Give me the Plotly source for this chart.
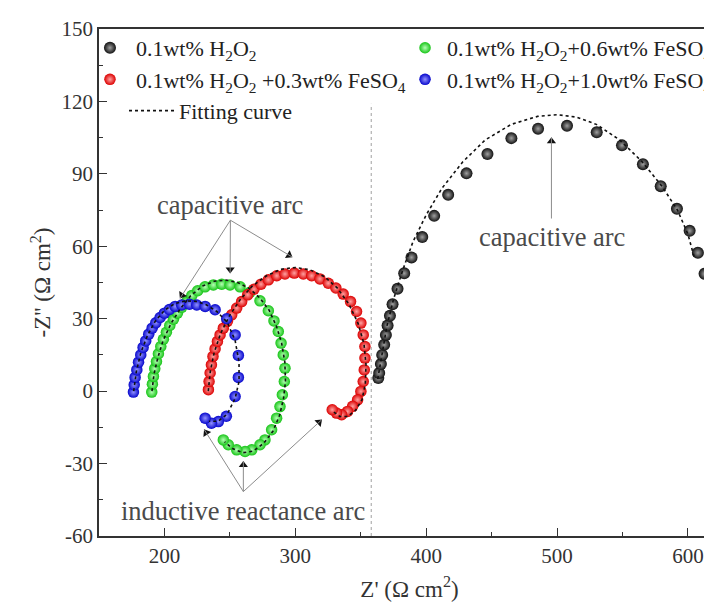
import math
import plotly.graph_objects as go

FONT = "Liberation Serif"

# ---------------- data ----------------
black_x = [363.4, 364.1, 365.4, 366.4, 367.9, 369.2, 370.5, 372.3, 374.3, 378.1, 383.2, 388.8,
           397.0, 406.1, 416.8, 430.8, 446.8, 465.1, 485.5, 507.6, 530.3, 549.6, 565.6, 579.2,
           591.6, 601.3, 607.6, 612.7]
black_y = [5.4, 7.5, 11.2, 15.0, 19.2, 23.3, 27.2, 31.2, 36.0, 42.4, 48.8, 55.4,
           63.8, 72.6, 81.3, 90.2, 98.2, 104.8, 108.7, 109.9, 107.2, 101.8, 94.0, 84.9,
           75.5, 66.4, 57.3, 48.6]

red_x = [233.6, 234.1, 234.9, 235.9, 237.1, 238.7, 240.5, 242.5, 245.0, 248.1, 251.4, 255.2,
         259.0, 263.6, 268.4, 273.8, 279.4, 285.8, 292.1, 299.2, 306.1, 312.5, 318.8, 325.2,
         331.0, 336.6, 342.2, 346.8, 350.1, 351.9, 353.2, 353.2, 352.7, 351.9, 350.1, 347.6,
         343.8, 339.9, 335.4, 331.5, 328.2]
red_y = [0.6, 4.0, 7.5, 10.9, 14.4, 17.5, 20.6, 23.3, 26.1, 28.9, 31.6, 34.4,
         37.1, 39.9, 42.2, 44.3, 46.1, 47.8, 48.5, 48.9, 48.5, 47.8, 46.5, 44.7,
         42.7, 40.2, 37.1, 33.0, 28.2, 23.3, 18.5, 13.7, 8.8, 4.0, -0.1, -3.6,
         -6.3, -8.4, -9.8, -9.1, -7.7]

green_x = [190.3, 190.8, 191.6, 192.6, 193.9, 195.4, 197.2, 199.2, 201.5, 204.1, 206.9, 209.9,
           213.2, 217.0, 220.9, 225.4, 231.0, 237.4, 243.8, 250.1, 257.8, 265.4, 273.0, 279.4,
           283.7, 287.0, 289.1, 290.8, 292.1, 291.6, 290.1, 288.3, 285.7, 281.9, 276.8, 273.0,
           266.7, 261.6, 255.2, 248.8, 245.0]
green_y = [-0.4, 2.9, 6.1, 9.3, 12.3, 15.5, 18.5, 21.5, 24.4, 27.2, 29.8, 32.3,
           34.7, 37.1, 39.6, 41.6, 43.2, 44.0, 44.3, 44.0, 43.2, 41.0, 37.4, 33.3,
           29.1, 24.7, 19.9, 15.0, 9.5, 4.0, -1.5, -6.4, -11.2, -16.0, -20.2, -22.2,
           -24.3, -25.0, -24.3, -22.2, -20.2]

blue_x = [176.3, 176.9, 177.6, 178.9, 180.2, 181.9, 183.7, 185.7, 188.0, 190.6, 193.4, 196.7,
          200.0, 203.8, 208.2, 213.2, 219.1, 224.7, 231.1, 238.7, 247.6, 254.0, 256.5, 256.5,
          254.0, 247.3, 241.2, 235.9, 231.1]
blue_y = [-0.4, 2.6, 5.7, 8.8, 12.0, 15.0, 18.1, 20.8, 23.6, 26.1, 28.3, 30.5,
          32.3, 33.8, 35.1, 35.7, 36.0, 35.7, 35.1, 33.7, 30.0, 23.3, 14.8, 5.7,
          -2.2, -10.4, -12.6, -13.3, -11.2]

# fitting curves
black_fit_x = [363, 366, 370, 375, 382, 390, 400, 412, 428, 445, 465, 485, 500, 515, 530,
               548, 565, 580, 592, 600, 605]
black_fit_y = [5, 15, 27, 38, 50, 62, 73, 84, 95, 104, 110.5, 113.8, 114.5, 113.5, 110.5,
               104, 95, 85, 75, 65, 55]
blue_fit_x = [176.5, 178.5, 182, 187, 193, 200, 208, 216, 224, 232, 240, 248, 254, 257, 257,
              254, 248, 241, 234]
blue_fit_y = [0, 8, 16, 23, 29, 33.5, 36.3, 37.4, 37.2, 35.8, 33, 28.5, 21, 12, 4,
              -3, -9.5, -12.5, -12.5]
green_fit_x = [190.5, 192, 195, 199, 205, 212, 220, 229, 238, 247, 256, 265, 273, 280, 285.5,
               289.5, 292, 292.5, 291, 288, 283, 276, 268, 260, 252, 246]
green_fit_y = [0, 7, 14, 21, 28, 34, 39.5, 43.5, 45.5, 46, 45, 42.5, 38.5, 33.5, 27,
               20, 12, 4, -3, -10, -16.5, -21.5, -24.8, -25.5, -23.8, -21]
red_fit_x = [233.5, 235, 238, 243, 250, 258, 267, 278, 289, 300, 311, 322, 332, 341, 348,
             352.5, 354, 353.5, 351, 346, 340, 334, 329]
red_fit_y = [0, 8, 16, 24, 31.5, 38, 43.5, 47.8, 50.5, 51.2, 50.3, 47.5, 42.8, 36, 28,
             19.5, 11, 3, -3.5, -8, -10.5, -10.5, -8.5]

names = ["0.1wt% H<sub>2</sub>O<sub>2</sub>",
         "0.1wt% H<sub>2</sub>O<sub>2</sub> +0.3wt% FeSO<sub>4</sub>",
         "0.1wt% H<sub>2</sub>O<sub>2</sub>+0.6wt% FeSO<sub>4</sub>",
         "0.1wt% H<sub>2</sub>O<sub>2</sub>+1.0wt% FeSO<sub>4</sub>"]
fit_name = "Fitting curve"

x_ticks = [200, 300, 400, 500, 600]
y_ticks = [-60, -30, 0, 30, 60, 90, 120, 150]
y_tick_labels = ["-60", "-30", "0", "30", "60", "90", "120", "150"]
x_range = [150, 624.5]
y_range = [-60, 150]
divider_x = 358

# ---------------- figure ----------------
W, H = 712, 605
M = dict(l=91, r=0, t=21, b=77)
sx = (W - M["l"] - M["r"]) / (x_range[1] - x_range[0])   # px per x unit
sy = (H - M["t"] - M["b"]) / (y_range[1] - y_range[0])   # px per y unit
fig = go.Figure()


def ball(edge, center, size=11.5):
    return dict(size=size, color=edge, line=dict(width=0),
                gradient=dict(type="radial", color=center))


fig.add_trace(go.Scatter(x=green_x, y=green_y, mode="markers", name=names[2], legend="legend2",
                         legendrank=1, marker=ball("#16c416", "#b4ffb4")))
fig.add_trace(go.Scatter(x=red_x, y=red_y, mode="markers", name=names[1], legend="legend",
                         legendrank=2, marker=ball("#dc0000", "#ffa2a2")))
fig.add_trace(go.Scatter(x=blue_x, y=blue_y, mode="markers", name=names[3], legend="legend2",
                         legendrank=2, marker=ball("#0606cc", "#9292ff")))
fig.add_trace(go.Scatter(x=black_x, y=black_y, mode="markers", name=names[0], legend="legend",
                         legendrank=1, marker=ball("#101010", "#a0a0a0", 12)))

fit_line = dict(color="#111111", width=1.6, dash="3px,3px")
fig.add_trace(go.Scatter(x=black_fit_x, y=black_fit_y, mode="lines", name=fit_name,
                         legend="legend3", line=fit_line))
for fx, fy in [(blue_fit_x, blue_fit_y), (green_fit_x, green_fit_y), (red_fit_x, red_fit_y)]:
    fig.add_trace(go.Scatter(x=fx, y=fy, mode="lines", showlegend=False, line=fit_line))

# vertical dotted divider
fig.add_shape(type="line", xref="x", yref="y", x0=divider_x, x1=divider_x, y0=-60, y1=119,
              line=dict(color="#a0a0a0", width=1, dash="dot"), layer="below")

# annotation texts
ann_font = dict(family=FONT, size=26.5, color="#4a4a4a")
annotations = [
    dict(x=250.4, y=77, text="capacitive arc", showarrow=False, xref="x", yref="y",
         font=ann_font, yanchor="middle"),
    dict(x=496, y=64, text="capacitive arc", showarrow=False, xref="x", yref="y",
         font=ann_font, yanchor="middle"),
    dict(x=260, y=-49.5, text="inductive reactance arc", showarrow=False, xref="x", yref="y",
         font=ann_font, yanchor="middle"),
]

# pointer arrows: (tail x, tail y, head x, head y) in data units
arrows = [
    (250.4, 70.8, 212.0, 38.5),
    (250.4, 70.8, 250.2, 48.9),
    (250.4, 70.8, 297.5, 55.6),
    (495.7, 71.5, 495.7, 105.0),
    (260.3, -41.6, 230.5, -16.0),
    (260.3, -41.6, 260.3, -29.1),
    (260.3, -41.6, 320.1, -11.9),
]
head_x, head_y, head_ang = [], [], []
for tx, ty, hx, hy in arrows:
    fig.add_shape(type="line", xref="x", yref="y", x0=tx, y0=ty, x1=hx, y1=hy,
                  line=dict(color="#8c8c8c", width=1))
    dx, dy = (hx - tx) * sx, -(hy - ty) * sy          # screen direction (y down)
    n = math.hypot(dx, dy)
    ux, uy = dx / n, dy / n
    back = 3.5
    head_x.append(hx - ux * back / sx)
    head_y.append(hy + uy * back / sy)
    head_ang.append(math.degrees(math.atan2(ux, -uy)))
fig.add_trace(go.Scatter(x=head_x, y=head_y, mode="markers", showlegend=False,
                         hoverinfo="skip",
                         marker=dict(symbol="triangle-up", size=8, angle=head_ang,
                                     color="#111111", line=dict(width=0))))

legend_common = dict(bgcolor="rgba(0,0,0,0)", borderwidth=0, orientation="v",
                     font=dict(family=FONT, size=22, color="#222222"),
                     yanchor="top", xanchor="left", tracegroupgap=0, traceorder="normal")

axis_common = dict(ticks="inside", ticklen=8, tickwidth=1.3, tickcolor="#333",
                   showline=True, linecolor="#333", linewidth=1.6, showgrid=False,
                   zeroline=False, automargin=False,
                   tickfont=dict(family=FONT, size=21, color="#333"))

fig.update_layout(
    width=W, height=H,
    margin=dict(**M, autoexpand=False),
    paper_bgcolor="white", plot_bgcolor="white",
    font=dict(family=FONT, size=21, color="#222222"),
    annotations=annotations,
    legend=dict(x=-0.0242, y=1.004, itemwidth=42, **legend_common),
    legend2=dict(x=0.4896, y=1.004, itemwidth=34, **legend_common),
    legend3=dict(x=0.0403, y=0.880, itemwidth=45, **legend_common),
    xaxis=dict(range=x_range, tickvals=x_ticks, mirror=True,
               minor=dict(dtick=50, tick0=0, ticks="inside", ticklen=4, tickcolor="#333"),
               title=dict(text="Z' (Ω cm<sup>2</sup>)", standoff=14,
                          font=dict(family=FONT, size=23, color="#333")),
               **axis_common),
    yaxis=dict(range=y_range, tickvals=y_ticks, ticktext=y_tick_labels, mirror=False,
               minor=dict(dtick=15, tick0=0, ticks="inside", ticklen=4, tickcolor="#333"),
               title=dict(text="-Z'' (Ω cm<sup>2</sup>)", standoff=4,
                          font=dict(family=FONT, size=23, color="#333")),
               **axis_common),
)

fig.write_html("out.html")
